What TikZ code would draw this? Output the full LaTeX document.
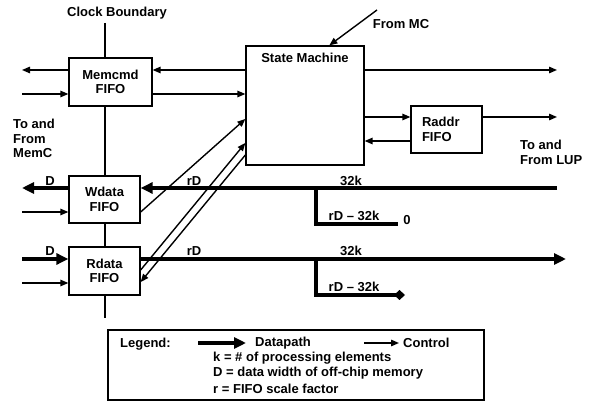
\documentclass[tikz,border=0pt]{standalone}
\usepackage{fontspec}
\setmainfont{Liberation Sans}
\usetikzlibrary{arrows.meta}
\begin{document}
\begin{tikzpicture}[x=1pt,y=-1pt,
  font=\fontsize{13}{14.5}\selectfont\bfseries,
  fifo/.style={draw, line width=1.3pt, fill=white, inner sep=0pt, align=center},
  ctrl/.style={line width=1.4pt, -{Triangle[length=8pt,width=6.5pt]}},
  data/.style={line width=4pt, -{Triangle[length=12pt,width=11pt]}},
  dline/.style={line width=4pt},
  lbl/.style={inner sep=0pt}]
\useasboundingbox (0,0) rectangle (592,403);

% clock boundary
\node[lbl] (clk) at (117,13) {Clock Boundary};
\coordinate (cbt) at (105,23);
\coordinate (cbb) at (105,318);
\draw[line width=1.3pt] (cbt) -- (cbb);

% boxes
\node[fifo, minimum width=83pt, minimum height=48pt] (memcmd) at (110.5,82) {Memcmd\\FIFO};
\node[fifo, minimum width=118pt, minimum height=119pt,
  label={[lbl, anchor=north, yshift=-8pt]north:State Machine}] (sm) at (305,105.5) {};
\node[fifo, minimum width=71pt, minimum height=47pt, text width=49pt, align=left] (raddr) at (446.5,129.5) {Raddr\\FIFO};
\node[fifo, minimum width=71pt, minimum height=47pt] (wdata) at (104.5,199.5) {Wdata\\FIFO};
\node[fifo, minimum width=71pt, minimum height=48pt] (rdata) at (104.5,271) {Rdata\\FIFO};

% side labels
\node[lbl, anchor=north west, align=left] (memc) at (13,119) {To and\\From\\MemC};
\node[lbl, anchor=north west, align=left] (lup) at (520,140) {To and\\From LUP};
\node[lbl] (frommc) at (401,24) {From MC};

% control: memcmd
\coordinate (yA) at (0,70);
\coordinate (yB) at (0,94);
\coordinate (mL1) at (22,70);
\coordinate (mL2) at (22,94);
\draw[ctrl] (memcmd.west |- yA) -- (mL1);
\draw[ctrl] (mL2) -- (memcmd.west |- yB);
\draw[ctrl] (sm.west |- yA) -- (memcmd.east |- yA);
\draw[ctrl] (memcmd.east |- yB) -- (sm.west |- yB);

% from MC
\coordinate (mc) at (377,10);
\draw[ctrl] (mc) -- ([xshift=84pt]sm.north west);

% state machine right
\coordinate (smr) at (557,70);
\draw[ctrl] (sm.east |- smr) -- (smr);
\coordinate (yC) at (0,117);
\coordinate (yD) at (0,141);
\draw[ctrl] (sm.east |- yC) -- (raddr.west |- yC);
\draw[ctrl] (raddr.west |- yD) -- (sm.east |- yD);
\coordinate (rr) at (557,117);
\draw[ctrl] (raddr.east |- rr) -- (rr);

% wdata / rdata control
\coordinate (wL) at (22,212);
\draw[ctrl] (wL) -- (wdata.west |- wL);
\coordinate (rL) at (22,283);
\draw[ctrl] (rL) -- (rdata.west |- rL);

% diagonals
\draw[ctrl] ([yshift=-12.5pt]wdata.east) -- ([yshift=-13.5pt]sm.west);
\draw[ctrl] ([yshift=1pt]rdata.east) -- ([yshift=-37.5pt]sm.west);
\draw[ctrl] ([yshift=-49.5pt]sm.west) -- ([yshift=-11pt]rdata.east);

% datapath: write
\coordinate (w32) at (557,188);
\draw[data] (w32) -- (wdata.east |- w32);
\coordinate (wD) at (22,188);
\draw[data] (wdata.west |- wD) -- (wD);
\coordinate (wb1) at (316,188);
\coordinate (wb2) at (316,224);
\coordinate (wb3) at (398,224);
\draw[dline] (wb1) -- (wb2) -- (wb3);
\node[lbl] (lwD) at (50,181) {D};
\node[lbl] (lwrD) at (194,181) {rD};
\node[lbl] (lw32) at (351,181) {32k};
\node[lbl] (lwrest) at (354,216) {rD -- 32k};
\node[lbl] (lzero) at (407,220) {0};

% datapath: read
\coordinate (rD) at (22,259);
\draw[data] (rD) -- (rdata.west |- rD);
\coordinate (r32) at (566,259);
\draw[data] (rdata.east |- r32) -- (r32);
\coordinate (rb1) at (316,259);
\coordinate (rb2) at (316,295);
\coordinate (rb3) at (405,295);
\draw[line width=4pt, -{Diamond[length=11pt,width=10pt]}] (rb1) -- (rb2) -- (rb3);
\node[lbl] (lrD) at (50,251) {D};
\node[lbl] (lrrD) at (194,251) {rD};
\node[lbl] (lr32) at (351,251) {32k};
\node[lbl] (lrrest) at (354,287) {rD -- 32k};

% legend
\node[draw, line width=1.5pt, minimum width=376pt, minimum height=70pt, inner sep=0pt] (legend) at (296,365) {};
\node[lbl, anchor=west] (leg) at (120,344) {Legend:};
\coordinate (ld1) at (198,343);
\coordinate (ld2) at (246,343);
\draw[data] (ld1) -- (ld2);
\node[lbl, anchor=west] (ldp) at (255,343) {Datapath};
\coordinate (lc1) at (364,343);
\coordinate (lc2) at (399,343);
\draw[ctrl] (lc1) -- (lc2);
\node[lbl, anchor=west] (lct) at (403,343) {Control};
\node[lbl, anchor=west] (lk) at (213,358) {k = \# of processing elements};
\node[lbl, anchor=west] (lD) at (213,373) {D = data width of off-chip memory};
\node[lbl, anchor=west] (lr) at (213,389) {r = FIFO scale factor};
\end{tikzpicture}
\end{document}
